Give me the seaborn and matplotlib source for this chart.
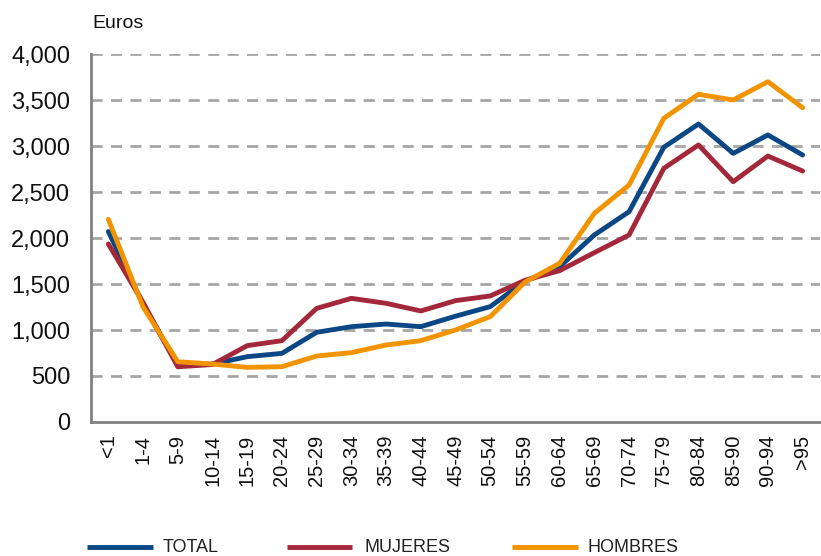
import matplotlib
matplotlib.use("Agg")
import matplotlib.pyplot as plt
import seaborn as sns
import pandas as pd
from matplotlib.ticker import FuncFormatter, FixedLocator
from matplotlib.lines import Line2D

categories = ["<1", "1-4", "5-9", "10-14", "15-19", "20-24", "25-29", "30-34", "35-39",
              "40-44", "45-49", "50-54", "55-59", "60-64", "65-69", "70-74", "75-79",
              "80-84", "85-90", "90-94", ">95"]
total = [2070, 1280, 620, 630, 710, 746, 975, 1036, 1065, 1036, 1150, 1254, 1530,
         1688, 2033, 2286, 2986, 3239, 2920, 3120, 2902]
mujeres = [1935, 1300, 600, 625, 830, 884, 1235, 1344, 1290, 1207, 1319, 1370, 1540,
           1645, 1841, 2033, 2757, 3011, 2612, 2891, 2728]
hombres = [2203, 1250, 655, 630, 594, 601, 717, 754, 837, 884, 1000, 1145, 1520,
           1725, 2268, 2576, 3301, 3562, 3500, 3699, 3416]
series_names = ["TOTAL", "MUJERES", "HOMBRES"]
colors = ["#0A4784", "#A3283A", "#F29300"]

rows = []
for name, vals in zip(series_names, [total, mujeres, hombres]):
    for i, (c, v) in enumerate(zip(categories, vals)):
        rows.append({"pos": i, "cat": c, "value": v, "serie": name})
df = pd.DataFrame(rows)

sns.set_theme(style="white")
plt.rcParams["font.family"] = ["Liberation Sans", "DejaVu Sans"]

W, H = 821, 556
fig = plt.figure(figsize=(W / 100, H / 100), dpi=100)
ax = fig.add_axes([91 / W, 1 - 422 / H, (820 - 91) / W, (422 - 54) / H])

sns.lineplot(data=df, x="pos", y="value", hue="serie", hue_order=series_names,
             palette=colors, linewidth=3.5, ax=ax, legend=False, sort=False)

ax.set_xlim(-0.5, len(categories) - 0.5)
ax.set_ylim(0, 4000)
ax.set_yticks(range(0, 4001, 500))
ax.yaxis.set_major_formatter(FuncFormatter(lambda v, p: f"{int(v):,}"))
ax.set_xticks(range(len(categories)))
ax.set_xticklabels(categories, rotation=90, fontsize=14.5, color="#111111")
ax.xaxis.set_minor_locator(FixedLocator([i + 0.5 for i in range(len(categories) - 1)]))
ax.tick_params(axis="x", which="major", length=0, pad=9)
ax.tick_params(axis="x", which="minor", length=7, width=1.5, color="#808080", direction="in")
ax.tick_params(axis="y", length=0, labelsize=17, pad=15, labelcolor="#111111")
ax.set_xlabel("")
ax.set_ylabel("")

ax.grid(False)
for y in range(500, 4001, 500):
    ax.axhline(y, color="#A6A6A6", linewidth=2, linestyle=(0, (4, 3)), zorder=0)

for s in ["top", "right"]:
    ax.spines[s].set_visible(False)
for s in ["left", "bottom"]:
    ax.spines[s].set_color("#808080")
    ax.spines[s].set_linewidth(2)

fig.text(92 / W, 1 - 23 / H, "Euros", fontsize=14, va="center", ha="left", color="#111111")

# legend drawn in figure coordinates
leg_y = 1 - 547 / H
leg_items = [(87, 153, 163), (287, 352, 364), (512, 578, 587)]
for (x0, x1, xt), name, c in zip(leg_items, series_names, colors):
    fig.add_artist(Line2D([x0 / W, x1 / W], [leg_y, leg_y], color=c, linewidth=3.5,
                          transform=fig.transFigure, solid_capstyle="butt"))
    fig.text(xt / W, leg_y, name, fontsize=13, va="center", ha="left", color="#222222")

fig.savefig("out.png", dpi=100)
